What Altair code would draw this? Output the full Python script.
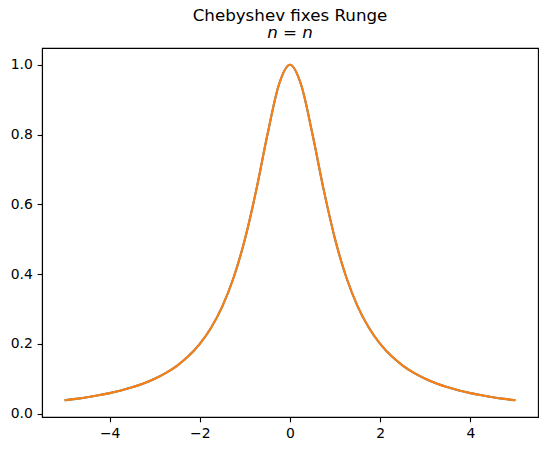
import altair as alt
import pandas as pd

# x positions of the sampled curve
xs = [-5.0, -4.75, -4.5, -4.25, -4.0, -3.75, -3.5, -3.25, -3.0, -2.75, -2.5,
      -2.25, -2.0, -1.75, -1.5, -1.25, -1.0, -0.75, -0.5, -0.25, 0.0,
      0.25, 0.5, 0.75, 1.0, 1.25, 1.5, 1.75, 2.0, 2.25, 2.5, 2.75, 3.0,
      3.25, 3.5, 3.75, 4.0, 4.25, 4.5, 4.75, 5.0]
# Runge function values
runge = [0.0385, 0.0424, 0.0471, 0.0525, 0.0588, 0.0664, 0.0755, 0.0865, 0.1000,
         0.1168, 0.1379, 0.1649, 0.2000, 0.2462, 0.3077, 0.3902, 0.5000, 0.6400,
         0.8000, 0.9412, 1.0000, 0.9412, 0.8000, 0.6400, 0.5000, 0.3902, 0.3077,
         0.2462, 0.2000, 0.1649, 0.1379, 0.1168, 0.1000, 0.0865, 0.0755, 0.0664,
         0.0588, 0.0525, 0.0471, 0.0424, 0.0385]
# Chebyshev interpolant values (visually identical)
cheb = [0.0385, 0.0424, 0.0471, 0.0525, 0.0588, 0.0664, 0.0755, 0.0865, 0.1000,
        0.1168, 0.1379, 0.1649, 0.2000, 0.2462, 0.3077, 0.3902, 0.5000, 0.6400,
        0.8000, 0.9412, 1.0000, 0.9412, 0.8000, 0.6400, 0.5000, 0.3902, 0.3077,
        0.2462, 0.2000, 0.1649, 0.1379, 0.1168, 0.1000, 0.0865, 0.0755, 0.0664,
        0.0588, 0.0525, 0.0471, 0.0424, 0.0385]
x_ticks = [-4, -2, 0, 2, 4]
y_ticks = [0.0, 0.2, 0.4, 0.6, 0.8, 1.0]

df = pd.DataFrame(
    {"x": xs * 2, "y": runge + cheb, "s": ["runge"] * len(xs) + ["cheb"] * len(xs),
     "o": [0] * len(xs) + [1] * len(xs)}
)

FONT = "DejaVu Sans"

xenc = alt.X("x:Q", scale=alt.Scale(domain=[-5.5, 5.5], nice=False, zero=False),
             axis=alt.Axis(values=x_ticks, format="d", title=None, grid=False))
yenc = alt.Y("y:Q", scale=alt.Scale(domain=[-0.0096, 1.0481], nice=False, zero=False),
             axis=alt.Axis(values=y_ticks, format=".1f", title=None, grid=False))

chart = (
    alt.Chart(df)
    .mark_line(strokeWidth=2.08, interpolate="monotone")
    .encode(
        x=xenc,
        y=yenc,
        color=alt.Color("s:N", scale=alt.Scale(domain=["runge", "cheb"],
                                               range=["#1f77b4", "#ff7f0e"]), legend=None),
        order=alt.Order("o:Q"),
        detail="s:N",
    )
    .properties(
        width=496,
        height=369,
        autosize=alt.AutoSizeParams(type="none"),
        padding={"left": 34, "top": 40, "right": 1, "bottom": 26},
        title=alt.TitleParams(
            text="Chebyshev fixes Runge",
            subtitle="n = n",
            anchor="middle",
            font=FONT,
            fontSize=16.7,
            fontWeight="normal",
            color="black",
            subtitleFont=FONT,
            subtitleFontSize=16.7,
            subtitleFontStyle="italic",
            subtitleColor="black",
            subtitlePadding=0,
            offset=6.5,
        ),
    )
    .configure_view(stroke="black", strokeWidth=1.1)
    .configure_axis(
        domainColor="black", domainWidth=1.1, tickColor="black", tickWidth=1.1,
        tickSize=4.86, labelPadding=4.86, labelFont=FONT, labelFontSize=13.9,
        labelColor="black", labelFlush=False,
    )
)

chart.save("out.html", embed_options={"renderer": "svg", "actions": False})
